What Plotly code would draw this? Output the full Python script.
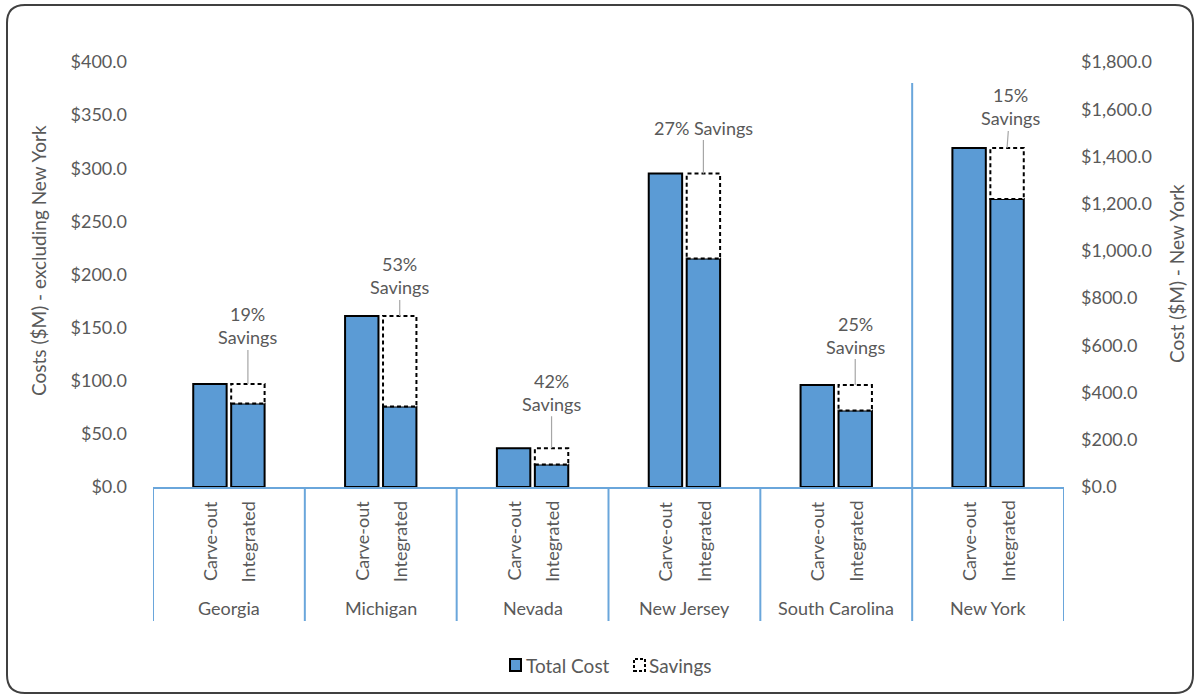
import plotly.graph_objects as go

# ---------------- data ----------------
states = ["Georgia", "Michigan", "Nevada", "New Jersey", "South Carolina", "New York"]
sub_labels = ["Carve-out", "Integrated"]
carve_out = [97.0, 161.0, 36.5, 295.0, 96.0, 1436.0]      # $M
integrated = [78.6, 75.7, 21.2, 215.0, 72.0, 1220.0]      # $M
savings_text = ["19%<br>Savings", "53%<br>Savings", "42%<br>Savings",
                "27% Savings", "25%<br>Savings", "15%<br>Savings"]
left_ticks = [0, 50, 100, 150, 200, 250, 300, 350, 400]
right_ticks = [0, 200, 400, 600, 800, 1000, 1200, 1400, 1600, 1800]

# ---------------- styling ----------------
W, H = 1198, 695
PL, PT, PW, PH = 153, 62, 911, 425
FONT = "Lato"
GREY = "#595959"
BLUE = "#5B9BD5"
AXBLUE = "#6AA6DB"
OFF = 0.125
BW = 0.22

def px(x):
    return (x - PL) / PW

def py(y):
    return (PT + PH - y) / PH

n_left = 5
fig = go.Figure()

# Total cost bars (left axis)
xl = [i - OFF for i in range(n_left)] + [i + OFF for i in range(n_left)]
yl = carve_out[:n_left] + integrated[:n_left]
fig.add_trace(go.Bar(x=xl, y=yl, width=BW, marker=dict(color=BLUE, line=dict(color="black", width=2)),
                     yaxis="y", showlegend=False, name="Total Cost"))
# Savings (left axis)
fig.add_trace(go.Bar(x=[i + OFF for i in range(n_left)],
                     y=[c - g for c, g in zip(carve_out[:n_left], integrated[:n_left])],
                     base=integrated[:n_left], width=BW,
                     marker=dict(color="white", line=dict(width=0)),
                     yaxis="y", showlegend=False, name="Savings"))
# New York (right axis)
ny = 5
fig.add_trace(go.Bar(x=[ny - OFF, ny + OFF], y=[carve_out[ny], integrated[ny]], width=BW,
                     marker=dict(color=BLUE, line=dict(color="black", width=2)),
                     yaxis="y2", showlegend=False, name="Total Cost"))
fig.add_trace(go.Bar(x=[ny + OFF], y=[carve_out[ny] - integrated[ny]], base=[integrated[ny]], width=BW,
                     marker=dict(color="white", line=dict(width=0)),
                     yaxis="y2", showlegend=False, name="Savings"))

shapes = []
annotations = []

# dashed outlines of savings
for i in range(len(states)):
    yref = "y2" if i == ny else "y"
    shapes.append(dict(type="rect", xref="x", yref=yref,
                       x0=i + OFF - BW / 2, x1=i + OFF + BW / 2,
                       y0=integrated[i], y1=carve_out[i],
                       line=dict(color="black", width=2, dash="4px,3px"), fillcolor="rgba(0,0,0,0)"))

# savings labels with leader lines
ays = [-58, -40, -56, -46, -50, -41]
axs = [0, 0, 0, 0, 0, 3]
for i in range(len(states)):
    yref = "y2" if i == ny else "y"
    annotations.append(dict(x=i + OFF, y=carve_out[i], xref="x", yref=yref,
                            text=savings_text[i], showarrow=True, arrowhead=0,
                            arrowwidth=1.2, arrowcolor="#A6A6A6", ax=axs[i], ay=ays[i],
                            standoff=0, font=dict(family=FONT, size=18, color=GREY)))

# category dividers
for k in range(len(states) + 1):
    shapes.append(dict(type="line", xref="x", yref="paper", x0=k - 0.5, x1=k - 0.5,
                       y0=0, y1=py(621), line=dict(color=AXBLUE, width=2)))
shapes.append(dict(type="line", xref="x", yref="paper", x0=4.5, x1=4.5,
                   y0=0, y1=py(83), line=dict(color=AXBLUE, width=2)))

# sub-category & state labels
for i, st in enumerate(states):
    for j, lab in enumerate(sub_labels):
        annotations.append(dict(x=i + (OFF if j else -OFF), y=py(499), xref="x", yref="paper",
                                text=lab, textangle=-90, showarrow=False, xanchor="center", yanchor="top",
                                font=dict(family=FONT, size=18, color=GREY)))
    annotations.append(dict(x=i, y=py(608), xref="x", yref="paper", text=st, showarrow=False,
                            xanchor="center", yanchor="middle", font=dict(family=FONT, size=18, color=GREY)))

# axis titles
annotations.append(dict(x=px(38), y=py(261), xref="paper", yref="paper",
                        text="Costs ($M) - excluding New York", textangle=-90, showarrow=False,
                        xanchor="center", yanchor="middle", font=dict(family=FONT, size=19, color=GREY)))
annotations.append(dict(x=px(1176), y=py(274), xref="paper", yref="paper",
                        text="Cost ($M) - New York", textangle=-90, showarrow=False,
                        xanchor="center", yanchor="middle", font=dict(family=FONT, size=19, color=GREY)))

# custom legend
shapes.append(dict(type="rect", xref="paper", yref="paper", x0=px(510), x1=px(521), y0=py(671), y1=py(659),
                   fillcolor=BLUE, line=dict(color="black", width=2)))
annotations.append(dict(x=px(524), y=py(665), xref="paper", yref="paper", text="Total Cost",
                        showarrow=False, xanchor="left", yanchor="middle",
                        font=dict(family=FONT, size=19, color=GREY)))
shapes.append(dict(type="rect", xref="paper", yref="paper", x0=px(634), x1=px(645), y0=py(671), y1=py(659),
                   fillcolor="white", line=dict(color="black", width=2, dash="3px,2px")))
annotations.append(dict(x=px(647), y=py(665), xref="paper", yref="paper", text="Savings",
                        showarrow=False, xanchor="left", yanchor="middle",
                        font=dict(family=FONT, size=19, color=GREY)))

# rounded outer border
x0, x1, y0, y1, r = 7, 1193, 5, 693, 18
path = (f"M {px(x0)},{py(y0 + r)} Q {px(x0)},{py(y0)} {px(x0 + r)},{py(y0)} "
        f"L {px(x1 - r)},{py(y0)} Q {px(x1)},{py(y0)} {px(x1)},{py(y0 + r)} "
        f"L {px(x1)},{py(y1 - r)} Q {px(x1)},{py(y1)} {px(x1 - r)},{py(y1)} "
        f"L {px(x0 + r)},{py(y1)} Q {px(x0)},{py(y1)} {px(x0)},{py(y1 - r)} Z")
shapes.append(dict(type="path", xref="paper", yref="paper", path=path,
                   line=dict(color="#404040", width=2), fillcolor="rgba(0,0,0,0)"))

fig.update_layout(
    width=W, height=H,
    margin=dict(l=PL, r=W - PL - PW, t=PT, b=H - PT - PH),
    paper_bgcolor="white", plot_bgcolor="white",
    barmode="overlay", showlegend=False,
    font=dict(family=FONT, size=18, color=GREY),
    xaxis=dict(range=[-0.5, 5.5], showticklabels=False, showgrid=False, zeroline=False,
               showline=True, linecolor=AXBLUE, linewidth=2, ticks="", fixedrange=True),
    yaxis=dict(range=[0, 400], tickvals=left_ticks, tickformat="$,.1f", showgrid=False,
               zeroline=False, showline=False, ticks="", ticklabelstandoff=25,
               tickfont=dict(family=FONT, size=18, color=GREY)),
    yaxis2=dict(range=[0, 1800], tickvals=right_ticks, tickformat="$,.1f", showgrid=False,
                zeroline=False, showline=False, ticks="", overlaying="y", side="right",
                ticklabelstandoff=16, tickfont=dict(family=FONT, size=18, color=GREY)),
    shapes=shapes, annotations=annotations,
)

fig.write_html("out.html")
